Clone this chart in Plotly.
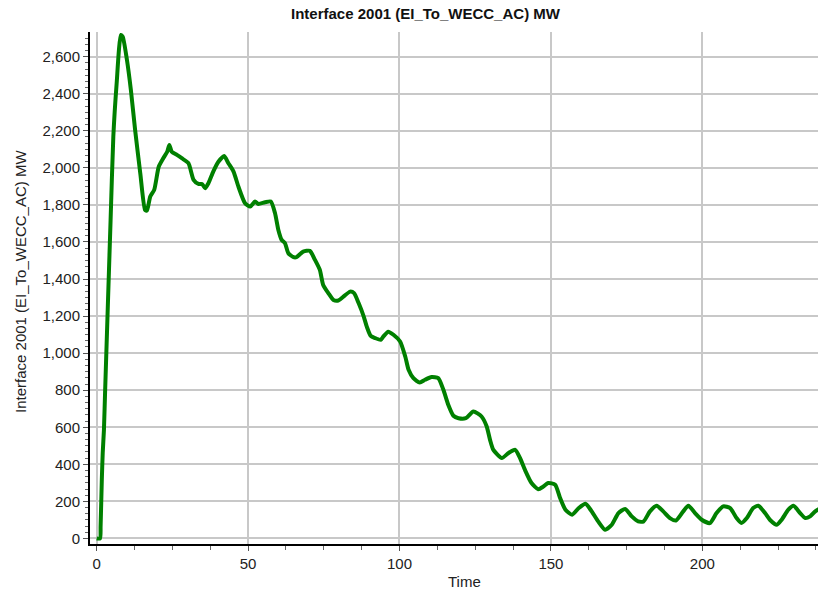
import plotly.graph_objects as go

time = [0, 1.1, 1.3, 1.7, 2.0, 2.4, 2.8, 4.6, 5.5, 6.6, 8.0, 8.6, 10.0, 11.3, 12.7, 14.4, 16.0, 16.6,
        17.7, 19.0, 20.5, 22.0, 23.3, 24.0, 24.8, 26.5, 28.1, 30.3, 32.0, 33.6, 34.8, 35.8, 36.9,
        38.5, 40.2, 42.1, 43.5, 45.2, 46.8, 49.0, 50.7, 52.3, 53.4, 55.6, 57.5, 58.9, 60.0, 61.1,
        62.2, 63.3, 65.0, 66.0, 68.2, 70.4, 72.1, 73.7, 74.8, 76.5, 78.2, 79.8, 81.5, 83.7, 85.0,
        86.5, 88.2, 89.2, 90.5, 92.0, 93.8, 94.7, 96.3, 98.0, 100.2, 101.9, 103.0, 104.6, 106.7,
        108.4, 110.6, 112.8, 114.5, 116.1, 117.8, 119.5, 121.9, 124.4, 127.1, 128.8, 129.9, 131.0,
        133.8, 136.0, 138.2, 139.8, 141.4, 143.6, 145.8, 147.5, 149.1, 151.4, 153.0, 154.8, 157.0,
        159.2, 161.4, 163.1, 165.6, 167.9, 170.1, 172.3, 174.5, 176.7, 178.8, 180.6, 182.7, 184.9,
        187.1, 189.3, 191.3, 193.7, 195.4, 197.6, 199.8, 202.5, 204.7, 206.9, 209.2, 211.3, 212.9,
        214.7, 216.8, 218.5, 220.7, 222.3, 224.6, 226.2, 228.4, 230.1, 232.3, 234.0, 235.6, 237.3,
        238.6]
mw = [0, 0, 65, 316, 462, 585, 800, 1718, 2168, 2456, 2717, 2708, 2582, 2420, 2204, 1971, 1772, 1769,
      1845, 1881, 2006, 2052, 2087, 2123, 2087, 2070, 2052, 2025, 1935, 1913, 1913, 1890, 1917,
      1980, 2033, 2064, 2025, 1980, 1899, 1809, 1791, 1818, 1805, 1814, 1818, 1755, 1665, 1611,
      1593, 1539, 1518, 1518, 1548, 1552, 1503, 1449, 1368, 1324, 1287, 1284, 1305, 1332, 1324,
      1270, 1197, 1143, 1093, 1081, 1072, 1090, 1116, 1099, 1063, 982, 910, 865, 841,
      856, 871, 865, 802, 721, 662, 649, 649, 685, 658, 604, 532, 478,
      434, 461, 478, 434, 371, 299, 266, 280, 299, 290, 220, 155, 128,
      164, 187, 155, 92, 47, 74, 137, 159, 119, 92, 92, 146, 176,
      146, 110, 97, 146, 176, 137, 101, 83, 137, 173, 164, 110, 83,
      110, 164, 176, 137, 101, 74, 101, 155, 176, 137, 110, 119, 146,
      159]

title_text = "Interface 2001 (EI_To_WECC_AC) MW"
x_title = "Time"

FONT = "Liberation Sans, Arial, sans-serif"

fig = go.Figure()
fig.add_trace(go.Scatter(x=time, y=mw, mode="lines",
                         line=dict(color="#008000", width=4, shape="spline", smoothing=0.6),
                         showlegend=False, hoverinfo="skip"))

fig.update_layout(
    width=818, height=592,
    margin=dict(l=90, r=0, t=32, b=48),
    paper_bgcolor="white", plot_bgcolor="white",
    font=dict(family=FONT, size=15, color="#222222"),
    showlegend=False,
    annotations=[
        dict(text="<b>" + title_text + "</b>", xref="paper", yref="paper",
             x=(426 - 90) / 728, y=1 + 19 / 512, xanchor="center", yanchor="middle",
             showarrow=False, font=dict(family=FONT, size=15, color="#111111")),
        dict(text=x_title, xref="paper", yref="paper",
             x=(465 - 90) / 728, y=-(37 / 512), xanchor="center", yanchor="middle",
             showarrow=False, font=dict(family=FONT, size=15, color="#222222")),
        dict(text=title_text, xref="paper", yref="paper",
             x=-(70 / 728), y=(544 - 282) / 512, xanchor="center", yanchor="middle",
             textangle=-90, showarrow=False,
             font=dict(family=FONT, size=15, color="#222222")),
    ],
)

fig.update_xaxes(
    range=[-2.2, 238.2], dtick=50, tick0=0,
    showline=True, linecolor="black", linewidth=2,
    ticks="outside", ticklen=5, tickwidth=1, tickcolor="#555555",
    showgrid=True, gridcolor="#c8c8c8", gridwidth=2, zeroline=False,
    minor=dict(dtick=12.5, ticks="outside", ticklen=4, tickcolor="#666666", showgrid=False),
    tickfont=dict(size=15, color="#222222"),
)
fig.update_yaxes(
    range=[-30, 2733], dtick=200, tick0=0, tickformat=",d",
    showline=True, linecolor="black", linewidth=2,
    ticks="outside", ticklen=5, tickwidth=1, tickcolor="#555555",
    showgrid=True, gridcolor="#c8c8c8", gridwidth=2, zeroline=False,
    minor=dict(dtick=200 / 6, ticks="outside", ticklen=3, tickcolor="#666666", showgrid=False),
    tickfont=dict(size=15, color="#222222"),
)

fig.write_html("out.html")
